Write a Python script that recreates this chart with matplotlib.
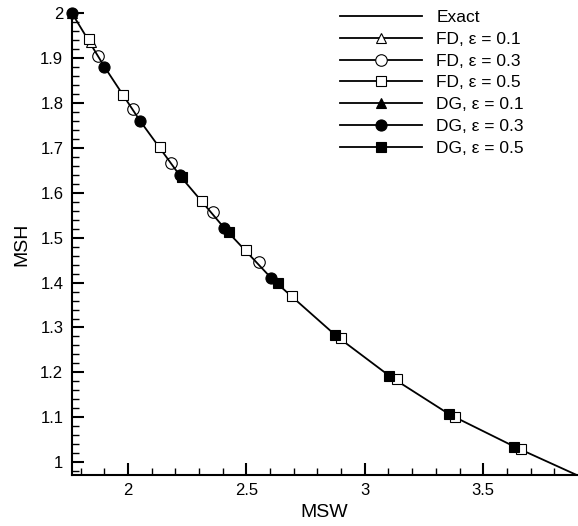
import numpy as np
import matplotlib
matplotlib.use('Agg')
import matplotlib.pyplot as plt
from matplotlib.ticker import MultipleLocator, FormatStrFormatter

plt.rcParams['font.family'] = ['Liberation Sans', 'DejaVu Sans']

# exact solution
exact_msw = [1.762, 1.900, 2.050, 2.220, 2.410, 2.610, 2.880, 3.110, 3.360, 3.640, 3.895]
exact_msh = [2.000, 1.880, 1.760, 1.637, 1.519, 1.407, 1.281, 1.190, 1.106, 1.033, 0.972]

# finite difference results
fd01_msw = [1.842]
fd01_msh = [1.934]
fd03_msw = [1.8745, 2.020, 2.182, 2.358, 2.5548]
fd03_msh = [1.9037, 1.785, 1.6664, 1.556, 1.4462]
fd05_msw = [1.835, 1.980, 2.135, 2.3126, 2.4985, 2.694, 2.901, 3.135, 3.383, 3.660]
fd05_msh = [1.9415, 1.8176, 1.7006, 1.582, 1.4722, 1.370, 1.2758, 1.1846, 1.100, 1.029]

# discontinuous galerkin results
dg01_msw = [1.762]
dg01_msh = [2.000]
dg03_msw = [1.762, 1.900, 2.0507, 2.2197, 2.4056, 2.603]
dg03_msh = [2.000, 1.880, 1.760, 1.639, 1.522, 1.4106]
dg05_msw = [2.227, 2.428, 2.6324, 2.873, 3.101, 3.355, 3.6307]
dg05_msh = [1.634, 1.5116, 1.398, 1.2838, 1.1926, 1.108, 1.0347]

fig = plt.figure(figsize=(5.78, 5.26), dpi=100)
ax = fig.add_axes([71.7 / 578, 51 / 526, 505 / 578, (475 - 12.7) / 526])

lw = 1.3
mew = 0.8
ax.plot(exact_msw, exact_msh, color='k', lw=lw, label='Exact')

# marker-only series; legend handles get a line through them
ax.plot(fd01_msw, fd01_msh, ls='none', marker='^', ms=7, mfc='white', mec='k', mew=mew, clip_on=False)
ax.plot(fd03_msw, fd03_msh, ls='none', marker='o', ms=8.3, mfc='none', mec='k', mew=mew, clip_on=False)
ax.plot(fd05_msw, fd05_msh, ls='none', marker='s', ms=7, mfc='white', mec='k', mew=mew, clip_on=False)
ax.plot(dg01_msw, dg01_msh, ls='none', marker='^', ms=7, mfc='k', mec='k', mew=mew, clip_on=False)
ax.plot(dg03_msw, dg03_msh, ls='none', marker='o', ms=8, mfc='k', mec='k', mew=mew, clip_on=False)
ax.plot(dg05_msw, dg05_msh, ls='none', marker='s', ms=7, mfc='k', mec='k', mew=mew, clip_on=False)

handles = [
    plt.Line2D([], [], color='k', lw=lw),
    plt.Line2D([], [], color='k', lw=lw, marker='^', ms=7, mfc='white', mec='k', mew=mew),
    plt.Line2D([], [], color='k', lw=lw, marker='o', ms=8.3, mfc='white', mec='k', mew=mew),
    plt.Line2D([], [], color='k', lw=lw, marker='s', ms=7, mfc='white', mec='k', mew=mew),
    plt.Line2D([], [], color='k', lw=lw, marker='^', ms=7, mfc='k', mec='k', mew=mew),
    plt.Line2D([], [], color='k', lw=lw, marker='o', ms=8, mfc='k', mec='k', mew=mew),
    plt.Line2D([], [], color='k', lw=lw, marker='s', ms=7, mfc='k', mec='k', mew=mew),
]
labels = ['Exact', 'FD, ε = 0.1', 'FD, ε = 0.3', 'FD, ε = 0.5',
          'DG, ε = 0.1', 'DG, ε = 0.3', 'DG, ε = 0.5']
ax.legend(handles, labels, loc='upper left', bbox_to_anchor=(340 / 578, 1 - 10 / 526),
          bbox_transform=fig.transFigure, frameon=False, fontsize=12.5,
          handlelength=4.7, handletextpad=0.85, labelspacing=0.38, borderpad=0,
          borderaxespad=0, markerfirst=True)

ax.set_xlim(1.762, 3.895)
ax.set_ylim(0.972, 2.0)

for s in ['top', 'right']:
    ax.spines[s].set_visible(False)
for s in ['left', 'bottom']:
    ax.spines[s].set_linewidth(1.5)

ax.xaxis.set_major_locator(MultipleLocator(0.5))
ax.xaxis.set_minor_locator(MultipleLocator(0.1))
ax.yaxis.set_major_locator(MultipleLocator(0.1))
ax.yaxis.set_minor_locator(MultipleLocator(0.02))
ax.xaxis.set_major_formatter(FormatStrFormatter('%g'))
ax.yaxis.set_major_formatter(FormatStrFormatter('%g'))
ax.tick_params(which='major', direction='in', length=8.6, width=1.5, labelsize=12, pad=6)
ax.tick_params(which='minor', direction='in', length=5, width=1.0)
ax.tick_params(top=False, right=False, which='both')

ax.set_xlabel('MSW', fontsize=14, labelpad=4)
ax.set_ylabel('MSH', fontsize=14, labelpad=7)

fig.savefig('out.png', dpi=100)
